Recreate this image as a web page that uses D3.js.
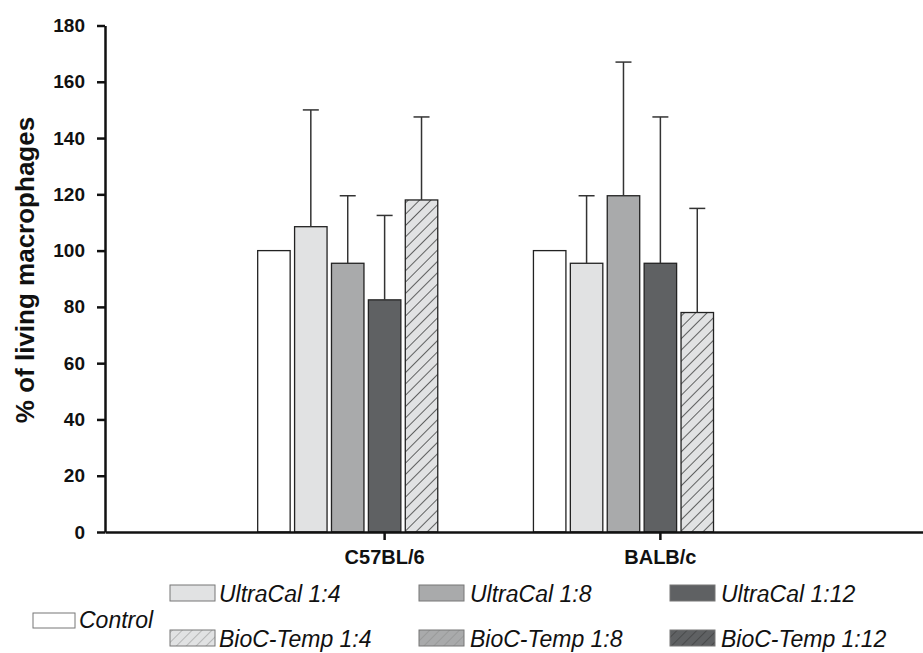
<!DOCTYPE html>
<html>
<head>
<meta charset="utf-8">
<script src="https://cdnjs.cloudflare.com/ajax/libs/d3/7.8.5/d3.min.js"></script>
<style>
  body { margin: 0; background: #fff; }
  svg { display: block; font-family: "Liberation Sans", Arial, sans-serif; }
</style>
</head>
<body>
<div id="chart"></div>
<script>
// data
const strains = ['C57BL/6', 'BALB/c'];
const series = ['Control', 'UltraCal 1:4', 'UltraCal 1:8', 'UltraCal 1:12',
                'BioC-Temp 1:4', 'BioC-Temp 1:8', 'BioC-Temp 1:12'];
const meanC57 = [100, 108.5, 95.5, 82.5, 118, null, null];
const sdC57   = [0, 41.5, 24, 30, 29.5, null, null];
const meanBALB = [100, 95.5, 119.5, 95.5, 78, null, null];
const sdBALB   = [0, 24, 47.5, 52, 37, null, null];
const yTicks = [0, 20, 40, 60, 80, 100, 120, 140, 160, 180];

const fills = ['#ffffff', '#e1e2e3', '#a9aaab', '#5f6163', '#e1e2e3', '#a9aaab', '#5f6163'];
const hatched = [false, false, false, false, true, true, true];

const width = 923, height = 653;
const svg = d3.select('#chart').append('svg')
    .attr('width', width)
    .attr('height', height);

// hatch patterns
const defs = svg.append('defs');
function hatch(id, bg, line, size, lw) {
    const p = defs.append('pattern')
        .attr('id', id)
        .attr('patternUnits', 'userSpaceOnUse')
        .attr('width', size).attr('height', size)
        .attr('patternTransform', 'rotate(45)');
    p.append('rect').attr('width', size).attr('height', size).attr('fill', bg);
    p.append('line').attr('x1', 0).attr('y1', 0).attr('x2', 0).attr('y2', size)
        .attr('stroke', line).attr('stroke-width', lw);
}
series.forEach((s, i) => {
    if (!hatched[i]) return;
    hatch('bar' + i, fills[i], '#1a1a1a', 8, 1.3);
    hatch('leg' + i, fills[i], i === 6 ? '#333' : '#8a8a8a', 7, 1);
});
const fillOf = (i, pre) => hatched[i] ? `url(#${pre}${i})` : fills[i];

const y = d3.scaleLinear().domain([0, 180]).range([532, 25.5]);
const x0 = d3.scaleBand().domain(strains).range([105, 940])
    .paddingInner(0.074).paddingOuter(0.551);
const x1 = d3.scaleBand().domain(series).range([0, x0.bandwidth()])
    .paddingInner(0.12).paddingOuter(0.02);

const rows = strains.map((s, k) => ({
    strain: s,
    vals: series.map((name, i) => ({
        name, i,
        mean: k === 0 ? meanC57[i] : meanBALB[i],
        sd: k === 0 ? sdC57[i] : sdBALB[i]
    })).filter(d => d.mean != null)
}));

const groups = svg.append('g').selectAll('g')
    .data(rows).enter().append('g')
    .attr('transform', d => `translate(${x0(d.strain)},0)`);

groups.selectAll('rect')
    .data(d => d.vals).enter().append('rect')
    .attr('x', d => x1(d.name))
    .attr('y', d => y(d.mean))
    .attr('width', x1.bandwidth())
    .attr('height', d => y(0) - y(d.mean))
    .attr('fill', d => fillOf(d.i, 'bar'))
    .attr('stroke', '#222')
    .attr('stroke-width', 1.3);

// upper error bars
const err = groups.selectAll('g.err')
    .data(d => d.vals.filter(v => v.sd > 0)).enter().append('g')
    .attr('class', 'err')
    .attr('stroke', '#333')
    .attr('stroke-width', 1.5);
err.append('line')
    .attr('x1', d => x1(d.name) + x1.bandwidth() / 2)
    .attr('x2', d => x1(d.name) + x1.bandwidth() / 2)
    .attr('y1', d => y(d.mean))
    .attr('y2', d => y(d.mean + d.sd));
err.append('line')
    .attr('x1', d => x1(d.name) + x1.bandwidth() / 2 - 8)
    .attr('x2', d => x1(d.name) + x1.bandwidth() / 2 + 8)
    .attr('y1', d => y(d.mean + d.sd))
    .attr('y2', d => y(d.mean + d.sd));

// axes
const yAxis = svg.append('g')
    .attr('transform', 'translate(105,0)')
    .call(d3.axisLeft(y).tickValues(yTicks).tickSize(8).tickSizeOuter(0).tickPadding(12));
const xAxis = svg.append('g')
    .attr('transform', 'translate(0,532)')
    .call(d3.axisBottom(x0).tickSize(8).tickSizeOuter(0).tickPadding(10));
[yAxis, xAxis].forEach(a => {
    a.select('.domain').attr('stroke', '#111').attr('stroke-width', 2.5);
    a.selectAll('.tick line').attr('stroke', '#111').attr('stroke-width', 2.5);
    a.selectAll('text').attr('fill', '#111').attr('font-weight', 'bold');
});
yAxis.selectAll('text').attr('font-size', 19);
xAxis.selectAll('text').attr('font-size', 20);

svg.append('text')
    .attr('transform', 'translate(34,270) rotate(-90)')
    .attr('text-anchor', 'middle')
    .attr('font-size', 26)
    .attr('font-weight', 'bold')
    .attr('fill', '#111')
    .text('% of living macrophages');

// legend
const legendPos = [
    {sx: 33, sy: 613, w: 42, h: 15, tx: 79, ty: 628},
    {sx: 170, sy: 585, w: 45, h: 16, tx: 219, ty: 602},
    {sx: 419, sy: 585, w: 45, h: 16, tx: 470, ty: 602},
    {sx: 670, sy: 585, w: 45, h: 16, tx: 721, ty: 602},
    {sx: 170, sy: 630, w: 45, h: 16, tx: 219, ty: 647},
    {sx: 419, sy: 630, w: 45, h: 16, tx: 470, ty: 647},
    {sx: 670, sy: 630, w: 45, h: 16, tx: 721, ty: 647}
];
const leg = svg.append('g').selectAll('g')
    .data(series).enter().append('g');
leg.append('rect')
    .attr('x', (d, i) => legendPos[i].sx)
    .attr('y', (d, i) => legendPos[i].sy)
    .attr('width', (d, i) => legendPos[i].w)
    .attr('height', (d, i) => legendPos[i].h)
    .attr('fill', (d, i) => fillOf(i, 'leg'))
    .attr('stroke', '#777')
    .attr('stroke-width', 1);
leg.append('text')
    .attr('x', (d, i) => legendPos[i].tx)
    .attr('y', (d, i) => legendPos[i].ty)
    .attr('font-size', 23)
    .attr('font-style', 'italic')
    .attr('fill', '#111')
    .text(d => d);
</script>
</body>
</html>
